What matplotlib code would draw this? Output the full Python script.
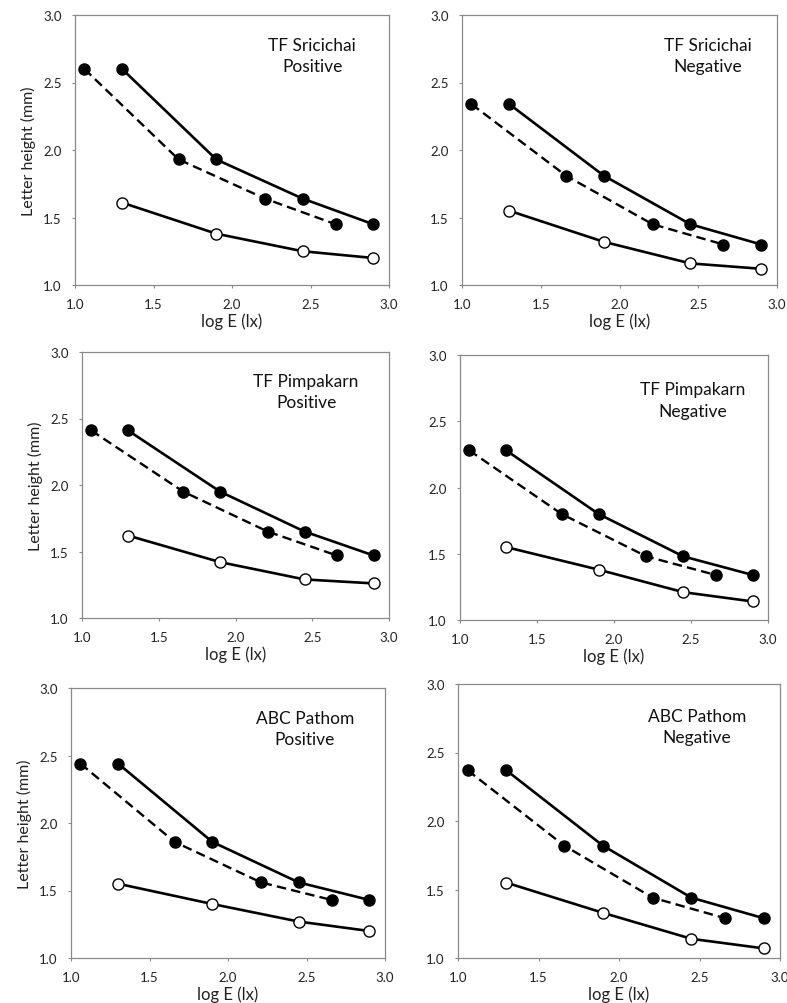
import matplotlib
matplotlib.use("Agg")
import matplotlib.pyplot as plt

plt.rcParams['font.family'] = ['Lato', 'DejaVu Sans']

# x positions (log E)
x_solid = [1.30, 1.90, 2.45, 2.90]
x_dash = [1.06, 1.66, 2.21, 2.66]

titles = ["TF Sricichai\nPositive", "TF Sricichai\nNegative",
          "TF Pimpakarn\nPositive", "TF Pimpakarn\nNegative",
          "ABC Pathom\nPositive", "ABC Pathom\nNegative"]

# filled-marker series (same values drawn solid and dashed-shifted)
filled_1 = [2.60, 1.93, 1.64, 1.45]
filled_2 = [2.34, 1.81, 1.45, 1.30]
filled_3 = [2.41, 1.95, 1.65, 1.47]
filled_4 = [2.28, 1.80, 1.48, 1.34]
filled_5 = [2.44, 1.86, 1.56, 1.43]
filled_6 = [2.37, 1.82, 1.44, 1.29]

# open-marker series
open_1 = [1.61, 1.38, 1.25, 1.20]
open_2 = [1.55, 1.32, 1.16, 1.12]
open_3 = [1.62, 1.42, 1.29, 1.26]
open_4 = [1.55, 1.38, 1.21, 1.14]
open_5 = [1.55, 1.40, 1.27, 1.20]
open_6 = [1.55, 1.33, 1.14, 1.07]

filled = [filled_1, filled_2, filled_3, filled_4, filled_5, filled_6]
opens = [open_1, open_2, open_3, open_4, open_5, open_6]

W, H = 787, 1004
# axes boxes in pixels: left, top, right, bottom
boxes = [(75, 16, 389, 286), (462, 16, 777, 286),
         (82, 353, 389, 619), (460, 356, 768, 621),
         (71, 689, 385, 959), (458, 685, 780, 959)]
text_pos = [(0.755, 0.85), (0.78, 0.85), (0.73, 0.85),
            (0.756, 0.83), (0.745, 0.85), (0.742, 0.845)]

fig = plt.figure(figsize=(W / 100, H / 100), dpi=100)
for i, (l, t, r, b) in enumerate(boxes):
    ax = fig.add_axes([l / W, 1 - b / H, (r - l) / W, (b - t) / H])
    ax.plot(x_dash, filled[i], color='black', lw=1.7, ls=(0, (4, 2.2)),
            marker='o', ms=8, mfc='black', mec='black', zorder=3)
    ax.plot(x_solid, filled[i], color='black', lw=1.9, ls='-',
            marker='o', ms=8, mfc='black', mec='black', zorder=3)
    ax.plot(x_solid, opens[i], color='black', lw=1.9, ls='-',
            marker='o', ms=8, mfc='white', mec='black', mew=1.0, zorder=3)
    ax.set_xlim(1.0, 3.0)
    ax.set_ylim(1.0, 3.0)
    ax.set_xticks([1.0, 1.5, 2.0, 2.5, 3.0])
    ax.set_yticks([1.0, 1.5, 2.0, 2.5, 3.0])
    ax.set_xticklabels(["1.0", "1.5", "2.0", "2.5", "3.0"])
    ax.set_yticklabels(["1.0", "1.5", "2.0", "2.5", "3.0"])
    for s in ax.spines.values():
        s.set_color('#8a8a8a')
        s.set_linewidth(0.9)
    ax.tick_params(direction='out', length=2.5, width=0.8, color='#8a8a8a',
                   labelsize=9.5, labelcolor='#222222')
    ax.tick_params(axis='x', pad=7)
    ax.tick_params(axis='y', pad=7)
    ax.set_xlabel("log E (lx)", fontsize=12, labelpad=1.5, color='#222222')
    if i % 2 == 0:
        ax.set_ylabel("Letter height (mm)", fontsize=11.5, labelpad=5, color='#222222')
    ax.text(text_pos[i][0], text_pos[i][1], titles[i], transform=ax.transAxes,
            ha='center', va='center', multialignment='center', fontsize=12.5,
            linespacing=1.4, color='#111111')

fig.savefig("out.png", dpi=100)
